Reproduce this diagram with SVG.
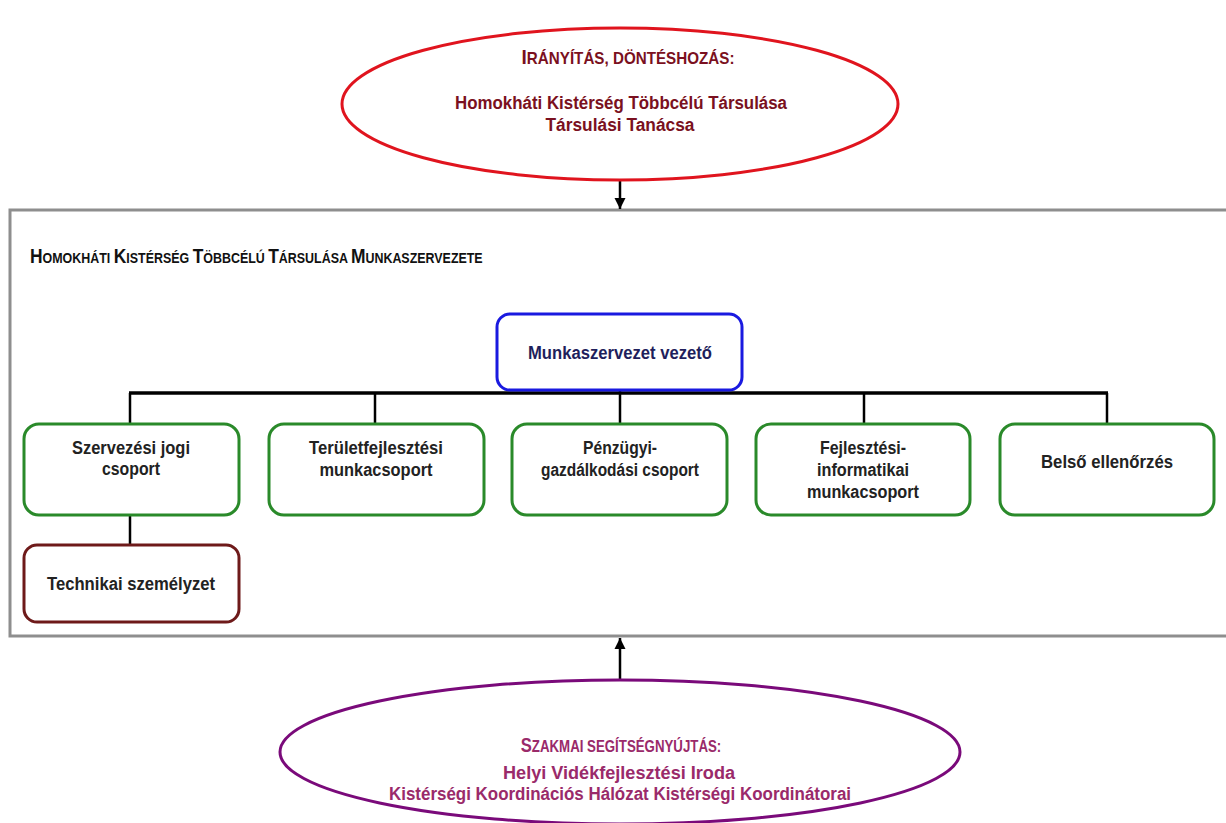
<svg xmlns="http://www.w3.org/2000/svg" width="1226" height="823" viewBox="0 0 1226 823">
<style>
text{font-family:"Liberation Sans",Arial,sans-serif;font-weight:bold;text-anchor:middle}
.g{fill:#fff;stroke:#2a8a2a;stroke-width:3}
.t{fill:#222;font-size:18px}
.c{stroke:#000;stroke-width:2.5;fill:none}
.top{fill:#7a1020;font-size:18px}
.bot{fill:#9a2a6a;font-size:18px}
</style>
<defs>
<marker id="ah" viewBox="0 0 10 10" refX="10" refY="5" markerWidth="4.5" markerHeight="4.5" orient="auto"><path d="M0,0L10,5L0,10z" fill="#000"/></marker>
</defs>
<rect width="1226" height="823" fill="#fff"/>
<g id="frame">
<rect x="10" y="210" width="1222" height="426" fill="#fff" stroke="#8e8e8e" stroke-width="3"/>
<text transform="translate(30,263) scale(0.83,1)" x="0" y="0" style="text-anchor:start;font-size:21px" fill="#111">H<tspan font-size="15">OMOKHÁTI </tspan>K<tspan font-size="15">ISTÉRSÉG </tspan>T<tspan font-size="15">ÖBBCÉLÚ </tspan>T<tspan font-size="15">ÁRSULÁSA </tspan>M<tspan font-size="15">UNKASZERVEZETE</tspan></text>
</g>
<g id="connectors">
<line class="c" x1="620" y1="180" x2="620" y2="209" marker-end="url(#ah)"/>
<line class="c" x1="620" y1="681" x2="620" y2="638" marker-end="url(#ah)"/>
<line class="c" x1="620" y1="390" x2="620" y2="424"/>
<line x1="129" y1="393" x2="1108" y2="393" stroke="#000" stroke-width="3.5"/>
<line class="c" x1="130" y1="393" x2="130" y2="424"/>
<line class="c" x1="375" y1="393" x2="375" y2="424"/>
<line class="c" x1="864" y1="393" x2="864" y2="424"/>
<line class="c" x1="1107" y1="393" x2="1107" y2="424"/>
<line class="c" x1="130" y1="515" x2="130" y2="545"/>
</g>
<g id="iranyitas">
<ellipse cx="620" cy="104" rx="278" ry="76" fill="#fff" stroke="#e0141e" stroke-width="3"/>
<text class="top" transform="translate(628,64) scale(0.95,1)" x="0" y="0" style="font-size:20px">I<tspan font-size="16">RÁNYÍTÁS, DÖNTÉSHOZÁS:</tspan></text>
<text class="top" x="621" y="109" textLength="332" lengthAdjust="spacingAndGlyphs">Homokháti Kistérség Többcélú Társulása</text>
<text class="top" x="620" y="131" textLength="149" lengthAdjust="spacingAndGlyphs">Társulási Tanácsa</text>
</g>
<g id="vezeto">
<rect x="497" y="314" width="245" height="76" rx="13" fill="#fff" stroke="#1a1ae0" stroke-width="3"/>
<text x="620" y="359" fill="#1f1f5c" font-size="18" textLength="184" lengthAdjust="spacingAndGlyphs">Munkaszervezet vezető</text>
</g>
<g id="szervezesi">
<rect class="g" x="24" y="424" width="215" height="91" rx="15"/>
<text class="t" x="131" y="454" textLength="118" lengthAdjust="spacingAndGlyphs">Szervezési jogi</text>
<text class="t" x="131" y="475" textLength="58" lengthAdjust="spacingAndGlyphs">csoport</text>
</g>
<g id="teruletfejlesztesi">
<rect class="g" x="269" y="424" width="215" height="91" rx="15"/>
<text class="t" x="376" y="454" textLength="134" lengthAdjust="spacingAndGlyphs">Területfejlesztési</text>
<text class="t" x="376" y="476" textLength="113" lengthAdjust="spacingAndGlyphs">munkacsoport</text>
</g>
<g id="penzugyi">
<rect class="g" x="512" y="424" width="215" height="91" rx="15"/>
<text class="t" x="620" y="454" textLength="74" lengthAdjust="spacingAndGlyphs">Pénzügyi-</text>
<text class="t" x="620" y="476" textLength="158" lengthAdjust="spacingAndGlyphs">gazdálkodási csoport</text>
</g>
<g id="fejlesztesi">
<rect class="g" x="756" y="424" width="214" height="91" rx="15"/>
<text class="t" x="863" y="454" textLength="86" lengthAdjust="spacingAndGlyphs">Fejlesztési-</text>
<text class="t" x="863" y="476" textLength="92" lengthAdjust="spacingAndGlyphs">informatikai</text>
<text class="t" x="863" y="498" textLength="112" lengthAdjust="spacingAndGlyphs">munkacsoport</text>
</g>
<g id="belso">
<rect class="g" x="1000" y="424" width="214" height="91" rx="15"/>
<text class="t" x="1107" y="468" textLength="132" lengthAdjust="spacingAndGlyphs">Belső ellenőrzés</text>
</g>
<g id="technikai">
<rect x="24" y="545" width="215" height="77" rx="13" fill="#fff" stroke="#6e1a1a" stroke-width="3"/>
<text class="t" x="131" y="590" textLength="168" lengthAdjust="spacingAndGlyphs">Technikai személyzet</text>
</g>
<g id="szakmai">
<ellipse cx="620" cy="752" rx="340" ry="72" fill="#fff" stroke="#7a0a7a" stroke-width="3"/>
<text class="bot" transform="translate(621,752) scale(0.83,1)" x="0" y="0" style="font-size:20px">S<tspan font-size="16">ZAKMAI SEGÍTSÉGNYÚJTÁS:</tspan></text>
<text class="bot" x="619" y="779" textLength="232" lengthAdjust="spacingAndGlyphs">Helyi Vidékfejlesztési Iroda</text>
<text class="bot" x="620" y="800" textLength="462" lengthAdjust="spacingAndGlyphs">Kistérségi Koordinációs Hálózat Kistérségi Koordinátorai</text>
</g>
</svg>
